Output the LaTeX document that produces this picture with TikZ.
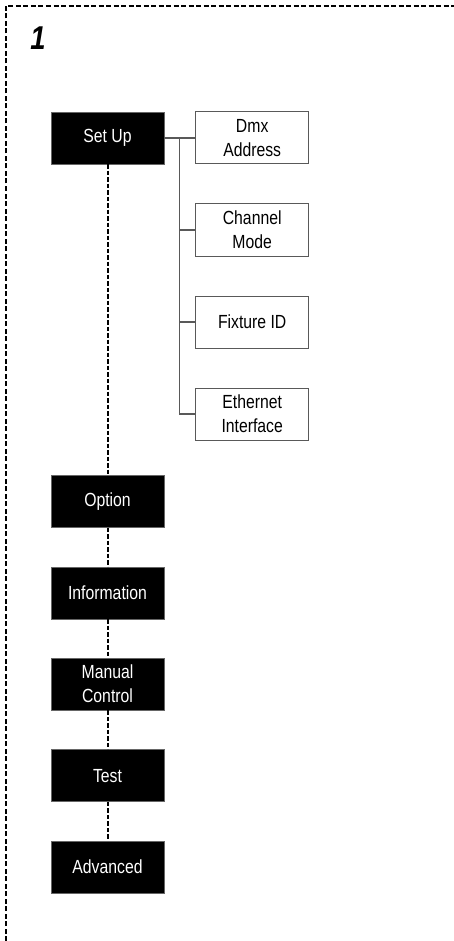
\documentclass[tikz,border=0pt]{standalone}
\usepackage{fontspec}
\setmainfont{Liberation Sans}[FakeStretch=0.83]
\usetikzlibrary{positioning}

\begin{document}
\begin{tikzpicture}[
        x=1pt, y=1pt,
        menu/.style={rectangle, fill=black, draw=black!60, text=white, minimum width=113pt, minimum height=52pt, align=center, inner sep=0pt, font=\fontsize{19}{24}\selectfont},
        sub/.style={rectangle, draw=black!65, line width=1pt, minimum width=113pt, minimum height=52pt, align=center, inner sep=0pt, font=\fontsize{19}{24}\selectfont},
        link/.style={black, line width=2pt, dash pattern=on 4.5pt off 2pt},
        branch/.style={black!65, line width=1.1pt},
        frame/.style={black, line width=1.9pt, dash pattern=on 5pt off 2.5pt}
        ]
        \useasboundingbox (0,0) rectangle (454,-941);

        % outer frame, only top and left
        \coordinate (fbl) at (6,-941);
        \coordinate (ftl) at (6,-6);
        \coordinate (ftr) at (454,-6);
        \draw[frame] (fbl) -- (ftl) -- (ftr);

        \node (num) at (38,-38) {\fontsize{33}{33}\selectfont\bfseries\itshape 1};

        % main menu column
        \node (setup)    [menu] at (107.5,-138) {Set Up};
        \node (option)   [menu, below=311pt of setup]  {Option};
        \node (info)     [menu, below=39pt of option]  {Information};
        \node (manual)   [menu, below=39pt of info]    {Manual\\Control};
        \node (test)     [menu, below=39pt of manual]  {Test};
        \node (advanced) [menu, below=39pt of test]    {Advanced};

        % set up sub menu
        \node (dmx)      [sub, right=31pt of setup]    {Dmx\\Address};
        \node (channel)  [sub, below=39pt of dmx]      {Channel\\Mode};
        \node (fixture)  [sub, below=39pt of channel]  {Fixture ID};
        \node (ethernet) [sub, below=39pt of fixture]  {Ethernet\\Interface};

        % dashed links down the column
        \draw[link] (setup)  -- (option);
        \draw[link] (option) -- (info);
        \draw[link] (info)   -- (manual);
        \draw[link] (manual) -- (test);
        \draw[link] (test)   -- (advanced);

        % branches to the sub menu
        \coordinate (trunk) at ([xshift=15pt]setup.east);
        \draw[branch] (setup.east) -- (dmx.west);
        \draw[branch] (trunk) |- (ethernet.west);
        \draw[branch] (trunk |- channel.west) -- (channel.west);
        \draw[branch] (trunk |- fixture.west) -- (fixture.west);

    \end{tikzpicture}
\end{document}
